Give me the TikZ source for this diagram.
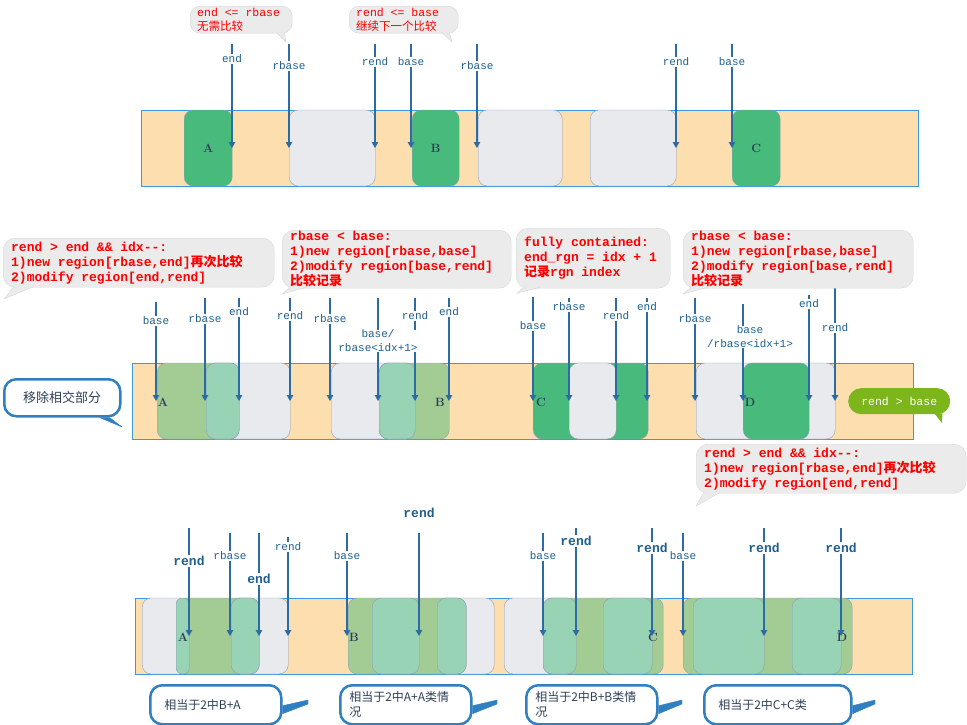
\documentclass[tikz,border=0pt]{standalone}
\usepackage{fontspec}
\setmonofont{Liberation Mono}
\newfontfamily\cjk{Noto Sans CJK SC}
\usetikzlibrary{arrows.meta, positioning}

\definecolor{peach}{HTML}{FDDEAE}
\definecolor{barblue}{HTML}{3A9BDC}
\definecolor{rgnline}{HTML}{8F9DB3}
\definecolor{dkgreen}{HTML}{47BA7C}
\definecolor{rgngrey}{HTML}{E8EAEE}
\definecolor{oliveg}{HTML}{A3CB94}
\definecolor{tealg}{HTML}{98D3B6}
\definecolor{lettercol}{HTML}{2E3A56}
\definecolor{ptrblue}{HTML}{2A6CA3}
\definecolor{lblblue}{HTML}{1F5F8F}
\definecolor{notegrey}{HTML}{EBEBEB}
\definecolor{noteline}{HTML}{D3DAD3}
\definecolor{tagblue}{HTML}{2F7FC1}
\definecolor{tagtext}{HTML}{2F4159}
\definecolor{limeg}{HTML}{7DB61B}

\begin{document}
\begin{tikzpicture}[x=1pt, y=-1pt,
    bar/.style={draw=barblue, fill=peach, anchor=north west, minimum height=76pt, inner sep=0pt},
    rgn/.style={draw=rgnline, rounded corners=9pt, anchor=west, minimum height=76pt, inner sep=0pt, text=lettercol, font=\bfseries\fontsize{12}{12}\selectfont},
    greenrgn/.style={rgn, fill=dkgreen},
    greyrgn/.style={rgn, fill=rgngrey},
    olivergn/.style={rgn, fill=oliveg},
    tealrgn/.style={rgn, fill=tealg},
    letter/.style={inner sep=0pt, text=lettercol, font=\bfseries\fontsize{12}{12}\selectfont},
    ptr/.style={draw=ptrblue, line width=1.2pt},
    arrow/.style={ptr, -{Triangle[length=6pt, width=6.5pt]}},
    lbl/.style={fill=white, inner sep=1pt, text=lblblue, font=\ttfamily\fontsize{11}{14}\selectfont},
    blbl/.style={lbl, font=\ttfamily\bfseries\fontsize{13}{13}\selectfont},
    note/.style={draw=noteline, fill=notegrey, rounded corners=12pt, anchor=north west, align=left, inner xsep=8pt, inner ysep=0pt, text=red, font=\ttfamily\bfseries\fontsize{13}{15}\selectfont, execute at begin node={\spaceskip=0pt\xspaceskip=0pt}},
    topnote/.style={note, rounded corners=10pt, inner xsep=7pt, font=\ttfamily\fontsize{11.5}{14}\selectfont},
    notetail/.style={draw=noteline, fill=notegrey},
    tag/.style={draw=tagblue, line width=2.5pt, fill=white, rounded corners=12pt, anchor=north west, align=left, inner ysep=0pt, text=tagtext, font=\cjk\fontsize{12}{15}\selectfont},
    tagtail/.style={draw=tagblue, fill=tagblue, line join=round}
]
    \useasboundingbox (0,0) rectangle (967,725);

    % Row 1: regions
    \node[bar, minimum width=777pt] (bar1) at (141,110) {};
    \node[greenrgn, minimum width=48pt] (r1a) at (184,148) {A};
    \node[greyrgn, minimum width=86pt] (r1b) at (289,148) {};
    \node[greenrgn, minimum width=47pt] (r1c) at (412,148) {B};
    \node[greyrgn, minimum width=84pt] (r1d) at (478,148) {};
    \node[greyrgn, minimum width=86pt] (r1e) at (590,148) {};
    \node[greenrgn, minimum width=48pt] (r1f) at (732,148) {C};

    % Row 1: pointers
    \foreach \px/\pt/\pl/\txt [count=\i] in {232/44/59/end, 289/44/66/rbase, 375/44/62/rend, 411/44/62/base, 477/44/66/rbase, 676/44/62/rend, 732/44/62/base}{
        \coordinate (ta\i) at (\px,\pt);
        \coordinate (ha\i) at (\px,148);
        \node[lbl] (la\i) at (\px,\pl) {\txt};
        \draw[ptr] (ta\i) -- (la\i);
        \draw[arrow] (la\i) -- (ha\i);
    }

    % Row 1: notes
    \node[topnote, text width=88pt, minimum height=27pt] (n1) at (190,6) {end <= rbase\\{\cjk 无需比较}};
    \coordinate (n1tip) at (286,42);
    \path[notetail] ([xshift=-16pt, yshift=1pt]n1.south east) -- (n1tip) -- ([xshift=-8pt, yshift=1pt]n1.south east);
    \node[topnote, text width=95pt, minimum height=27pt] (n2) at (349,6) {rend <= base\\{\cjk 继续下一个比较}};
    \coordinate (n2tip) at (452,42);
    \path[notetail] ([xshift=-17pt, yshift=1pt]n2.south east) -- (n2tip) -- ([xshift=-9pt, yshift=1pt]n2.south east);

    % Row 2: regions
    \node[bar, minimum width=781pt] (bar2) at (132,363) {};
    \node[greyrgn, minimum width=84pt] (r2a) at (206,401) {};
    \node[olivergn, minimum width=82pt] (r2b) at (157,401) {};
    \node[tealrgn, minimum width=33pt] (r2c) at (206,401) {};
    \node[greyrgn, minimum width=84pt] (r2d) at (331,401) {};
    \node[olivergn, minimum width=70pt] (r2e) at (379,401) {};
    \node[tealrgn, minimum width=36pt] (r2f) at (379,401) {};
    \node[greenrgn, minimum width=115pt] (r2g) at (533,401) {};
    \node[greyrgn, minimum width=47pt] (r2h) at (569,401) {};
    \node[greyrgn, minimum width=139pt] (r2i) at (696,401) {};
    \node[greenrgn, minimum width=66pt] (r2j) at (743,401) {};
    \node[letter] (A2) at (163,402) {A};
    \node[letter] (B2) at (440,402) {B};
    \node[letter] (C2) at (541,402) {C};
    \node[letter] (D2) at (750,402) {D};

    % Row 2: pointers
    \foreach \px/\pt/\pl/\txt [count=\i] in {156/302/321/base, 205/298/319/rbase, 239/298/312/end, 290/298/316/rend, 330/298/319/rbase, 415/298/316/rend, 449/298/312/end, 533/297/326/base, 569/298/307/rbase, 616/298/316/rend, 647/298/307/end, 695/298/319/rbase, 809/295/304/end, 835/288/328/rend}{
        \coordinate (tb\i) at (\px,\pt);
        \coordinate (hb\i) at (\px,401);
        \node[lbl] (lb\i) at (\px,\pl) {\txt};
        \draw[ptr] (tb\i) -- (lb\i);
        \draw[arrow] (lb\i) -- (hb\i);
    }
    \coordinate (tbu) at (378,298);
    \coordinate (hbu) at (378,401);
    \draw[arrow] (tbu) -- (hbu);
    \node[lbl, inner sep=0pt, align=center] (lbu) at (378,341) {base/\\rbase<idx+1>};
    \coordinate (tbv) at (743,304);
    \coordinate (hbv) at (743,401);
    \draw[arrow] (tbv) -- (hbv);
    \node[lbl, inner sep=0pt, align=center] (lbv) at (750,337) {base\\/rbase<idx+1>};

    % Row 2: notes
    \node[note, text width=255pt, minimum height=49pt] (n3) at (3,238) {rend > end \&\& idx-{}-:\\1)new region[rbase,end]{\cjk 再次比较}\\2)modify region[end,rend]};
    \coordinate (n3tip) at (4,299);
    \path[notetail] ([xshift=11pt, yshift=1pt]n3.south west) -- (n3tip) -- ([xshift=31pt, yshift=1pt]n3.south west);
    \node[note, text width=213pt, minimum height=58pt] (n4) at (282,230) {rbase < base:\\1)new region[rbase,base]\\2)modify region[base,rend]\\{\cjk 比较记录}};
    \coordinate (n4tip) at (282,294);
    \path[notetail] ([xshift=8pt, yshift=1pt]n4.south west) -- (n4tip) -- ([xshift=24pt, yshift=1pt]n4.south west);
    \node[note, text width=138pt, minimum height=60pt] (n5) at (516,228) {fully contained:\\end\_rgn = idx + 1\\{\cjk 记录}rgn index};
    \coordinate (n5tip) at (517,293);
    \path[notetail] ([xshift=8pt, yshift=1pt]n5.south west) -- (n5tip) -- ([xshift=24pt, yshift=1pt]n5.south west);
    \node[note, text width=214pt, minimum height=58pt] (n6) at (683,230) {rbase < base:\\1)new region[rbase,base]\\2)modify region[base,rend]\\{\cjk 比较记录}};
    \coordinate (n6tip) at (683,294);
    \path[notetail] ([xshift=8pt, yshift=1pt]n6.south west) -- (n6tip) -- ([xshift=24pt, yshift=1pt]n6.south west);
    \node[note, text width=254pt, minimum height=49pt] (n7) at (696,444) {rend > end \&\& idx-{}-:\\1)new region[rbase,end]{\cjk 再次比较}\\2)modify region[end,rend]};
    \coordinate (n7tip) at (696,506);
    \path[notetail] ([xshift=8pt, yshift=1pt]n7.south west) -- (n7tip) -- ([xshift=24pt, yshift=1pt]n7.south west);

    % Row 2: tags
    \node[tag, align=center, minimum width=116pt, minimum height=37pt, font=\cjk\fontsize{13}{15}\selectfont] (cut) at (3,378) {移除相交部分};
    \coordinate (cuttip) at (122,427);
    \path[tagtail] ([xshift=-22pt]cut.south east) -- (cuttip) -- ([xshift=-12pt]cut.south east) -- cycle;
    \node[fill=limeg, rounded corners=13pt, minimum width=102pt, minimum height=26pt, anchor=north west, text=white, font=\ttfamily\fontsize{11.5}{13}\selectfont] (over) at (848,388) {rend > base};
    \coordinate (overtip) at (942,423);
    \fill[limeg] ([xshift=-16pt, yshift=1pt]over.south east) -- (overtip) -- ([xshift=-8pt, yshift=1pt]over.south east) -- cycle;

    % Row 3: regions
    \node[bar, minimum width=777pt] (bar3) at (135,598) {};
    \node[greyrgn, minimum width=47pt] (r3a) at (142,636) {};
    \node[greyrgn, minimum width=57pt] (r3b) at (231,636) {};
    \node[olivergn, minimum width=83pt] (r3c) at (176,636) {};
    \node[tealrgn, minimum width=13pt, rounded corners=6pt] (r3d) at (176,636) {};
    \node[tealrgn, minimum width=28pt] (r3e) at (231,636) {};
    \node[greyrgn, minimum width=57pt] (r3f) at (437,636) {};
    \node[olivergn, minimum width=118pt] (r3g) at (348,636) {};
    \node[tealrgn, minimum width=47pt] (r3h) at (372,636) {};
    \node[tealrgn, minimum width=29pt] (r3i) at (437,636) {};
    \node[greyrgn, minimum width=72pt] (r3j) at (504,636) {};
    \node[olivergn, minimum width=120pt] (r3k) at (543,636) {};
    \node[tealrgn, minimum width=33pt] (r3l) at (543,636) {};
    \node[tealrgn, minimum width=49pt] (r3m) at (603,636) {};
    \node[olivergn, minimum width=169pt] (r3n) at (683,636) {};
    \node[tealrgn, minimum width=71pt] (r3o) at (693,636) {};
    \node[tealrgn, minimum width=49pt] (r3p) at (792,636) {};
    \node[letter] (A3) at (183,637) {A};
    \node[letter] (B3) at (354,637) {B};
    \node[letter] (C3) at (653,637) {C};
    \node[letter] (D3) at (842,637) {D};

    % Row 3: pointers
    \foreach \px/\pt/\pl/\txt [count=\i] in {230/533/556/rbase, 288/537/547/rend, 347/533/556/base, 543/533/556/base, 683/533/556/base}{
        \coordinate (tc\i) at (\px,\pt);
        \coordinate (hc\i) at (\px,636);
        \node[lbl] (lc\i) at (\px,\pl) {\txt};
        \draw[ptr] (tc\i) -- (lc\i);
        \draw[arrow] (lc\i) -- (hc\i);
    }
    \foreach \px/\pt/\pl/\txt [count=\i] in {189/528/561/rend, 259/533/579/end, 576/528/541/rend, 652/528/548/rend, 764/528/548/rend, 841/528/548/rend}{
        \coordinate (td\i) at (\px,\pt);
        \coordinate (hd\i) at (\px,636);
        \node[blbl] (ld\i) at (\px,\pl) {\txt};
        \draw[ptr] (td\i) -- (ld\i);
        \draw[arrow] (ld\i) -- (hd\i);
    }
    \coordinate (tdu) at (419,533);
    \coordinate (hdu) at (419,636);
    \node[blbl] (ldu) at (419,513) {rend};
    \draw[arrow] (tdu) -- (hdu);

    % Row 3: tags
    \node[tag, inner xsep=14pt, text width=103pt, minimum height=39pt] (t1) at (149,684) {相当于2中B+A};
    \coordinate (t1tip) at (308,702);
    \path[tagtail] ([yshift=-1pt]t1.east) -- ([yshift=2pt]t1tip) -- ([yshift=-2pt]t1tip) -- ([yshift=-9pt]t1.east) -- cycle;
    \node[tag, inner xsep=9pt, text width=113pt, minimum height=39pt] (t2) at (339,684) {相当于2中A+A类情\\况};
    \coordinate (t2tip) at (497,702);
    \path[tagtail] ([yshift=-1pt]t2.east) -- ([yshift=2pt]t2tip) -- ([yshift=-2pt]t2tip) -- ([yshift=-9pt]t2.east) -- cycle;
    \node[tag, inner xsep=9pt, text width=113pt, minimum height=39pt] (t3) at (525,684) {相当于2中B+B类情\\况};
    \coordinate (t3tip) at (682,702);
    \path[tagtail] ([yshift=-1pt]t3.east) -- ([yshift=2pt]t3tip) -- ([yshift=-2pt]t3tip) -- ([yshift=-9pt]t3.east) -- cycle;
    \node[tag, inner xsep=14pt, text width=119pt, minimum height=39pt] (t4) at (703,684) {相当于2中C+C类};
    \coordinate (t4tip) at (875,702);
    \path[tagtail] ([yshift=-1pt]t4.east) -- ([yshift=2pt]t4tip) -- ([yshift=-2pt]t4tip) -- ([yshift=-9pt]t4.east) -- cycle;
\end{tikzpicture}
\end{document}
